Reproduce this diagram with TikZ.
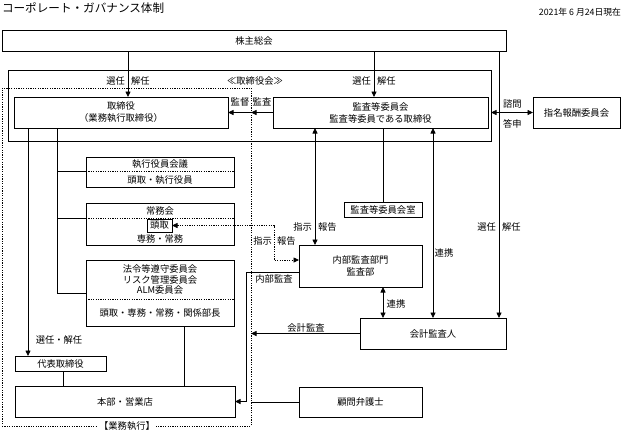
\documentclass[tikz,border=0pt]{standalone}
\usepackage{fontspec}
\setmainfont{Noto Sans CJK JP}
\usetikzlibrary{arrows.meta}

\begin{document}
\begin{tikzpicture}[x=1pt,y=-1pt,
    every node/.style={font=\fontsize{9.3}{11}\selectfont,inner sep=1pt,outer sep=0pt},
    box/.style={draw,line width=.8pt,align=center},
    conn/.style={line width=.8pt},
    dotline/.style={line width=.8pt,dash pattern=on 1.2pt off 1.2pt},
    >={Triangle[length=5.5pt,width=5pt]}]

      \useasboundingbox (0,0) rectangle (623,432);

      % x and y of the connectors
      \path (128,0) coordinate (xa) (374,0) coordinate (xb) (499,0) coordinate (xc);
      \path (315,0) coordinate (xd) (383,0) coordinate (xe) (433,0) coordinate (xf);
      \path (28,0) coordinate (xg) (63,0) coordinate (xh) (184,0) coordinate (xi);
      \path (57,0) coordinate (xj) (246,0) coordinate (xk) (274,0) coordinate (xl);
      \path (0,171) coordinate (yb) (0,218) coordinate (yc) (0,299) coordinate (yd);
      \path (0,260) coordinate (ye) (0,272) coordinate (yf);

      % header
      \node[anchor=west,font=\fontsize{11.6}{13}\selectfont] (title) at (1,8) {コーポレート・ガバナンス体制};
      \node[anchor=east,font=\fontsize{8.8}{10}\selectfont] (date) at (622,12) {2021年 6 月24日現在};

      % frames
      \node[draw,dotline,minimum width=249,minimum height=338] (gyomu) at (126.5,257) {};
      \node[fill=white] (gyomulbl) at (127,426) {【業務執行】};
      \node[box,minimum width=504,minimum height=21] (kabu) at (254,40.5) {株主総会};
      \node[box,minimum width=483,minimum height=71] (board) at (249.5,105.5) {};
      \node (boardlbl) at (255,81) {≪取締役会≫};

      % board members
      \node[box,minimum width=214,minimum height=31,font=\fontsize{9.3}{12}\selectfont] (torishimari) at (121,112.5) {取締役\\（業務執行取締役）};
      \node[box,minimum width=215,minimum height=31,font=\fontsize{9.3}{12}\selectfont] (kansa) at (380.5,112.5) {監査等委員会\\監査等委員である取締役};
      \node[box,minimum width=87,minimum height=31] (shimei) at (576.5,112.5) {指名報酬委員会};

      % committees
      \node[box,minimum width=148,minimum height=30] (shikko) at (160,172) {};
      \node (shikkot) at (160,164.5) {執行役員会議};
      \node (shikkob) at (160,180) {頭取・執行役員};
      \draw[dotline] (shikko.west |- yb) -- (shikko.east |- yb);

      \node[box,minimum width=148,minimum height=42] (jomu) at (160,224) {};
      \node (jomut) at (160,211) {常務会};
      \node[box,minimum width=25,minimum height=13] (tohdori) at (159.5,225.5) {頭取};
      \node (jomub) at (160,239) {専務・常務};
      \draw[dotline] (jomu.west |- yc) -- (jomu.east |- yc);

      \node[box,minimum width=148,minimum height=66] (horei) at (160,293) {};
      \node[align=center,font=\fontsize{9.3}{10.8}\selectfont] (horeit) at (160,279.5) {法令等遵守委員会\\リスク管理委員会\\ALM委員会};
      \node (horeib) at (160,312.5) {頭取・専務・常務・関係部長};
      \draw[dotline] (horei.west |- yd) -- (horei.east |- yd);

      \node[box,minimum width=91,minimum height=15] (daihyo) at (60.5,363.5) {代表取締役};
      \node[box,minimum width=220,minimum height=31] (honbu) at (125,401.5) {本部・営業店};

      % audit side
      \node[box,minimum width=78,minimum height=15] (shitsu) at (383,209.5) {監査等委員会室};
      \node[box,minimum width=123,minimum height=42,font=\fontsize{9.3}{11.5}\selectfont] (naibu) at (360.5,266) {内部監査部門\\監査部};
      \node[box,minimum width=146,minimum height=31] (kaikei) at (433,333.5) {会計監査人};
      \node[box,minimum width=123,minimum height=30] (komon) at (360.5,402) {顧問弁護士};

      % shareholders
      \draw[conn,->] (kabu.south -| xa) -- (torishimari.north -| xa);
      \node[anchor=east] (sa1) at (126,81) {選任};
      \node[anchor=west] (sa2) at (130,81) {解任};
      \draw[conn,->] (kabu.south -| xb) -- (kansa.north -| xb);
      \node[anchor=east] (sb1) at (372,81) {選任};
      \node[anchor=west] (sb2) at (376,81) {解任};
      \draw[conn,->] (kabu.south -| xc) -- (kaikei.north -| xc);
      \node[anchor=east] (sc1) at (497,226.5) {選任};
      \node[anchor=west] (sc2) at (501,226.5) {解任};

      % board
      \draw[conn,<->] (board.east |- shimei.west) -- (shimei.west);
      \node[anchor=west] (shimon) at (502,104) {諮問};
      \node[anchor=west] (toshin) at (502,124) {答申};
      \draw[conn,->] (kansa.west) -- (gyomu.east |- kansa.west);
      \draw[conn,->] (gyomu.east |- kansa.west) -- (torishimari.east);
      \node (kantoku) at (240,102) {監督};
      \node (kansalbl) at (262,102) {監査};

      % audit lines
      \draw[conn,<->] (kansa.south -| xd) -- (naibu.north -| xd);
      \node[anchor=east] (sj1) at (313,226.5) {指示};
      \node[anchor=west] (sj2) at (317,226.5) {報告};
      \draw[conn] (kansa.south -| xe) -- (shitsu.north);
      \draw[conn,<->] (kansa.south -| xf) -- (kaikei.north -| xf);
      \node (renkei1) at (444,252.5) {連携};
      \draw[conn,<->] (naibu.south -| xe) -- (kaikei.north -| xe);
      \node (renkei2) at (396,303.5) {連携};
      \draw[conn,->] (kaikei.west) -- (gyomu.east |- kaikei.west);
      \node (kaikeilbl) at (306,327.5) {会計監査};
      \draw[conn,->] (naibu.west |- yf) -| (xk |- honbu.east) -- (honbu.east);
      \node (naibulbl) at (274,279) {内部監査};
      \draw[conn] (komon.west) -- (gyomu.east |- komon.west);
      \draw[dotline,<->] (tohdori.east) -- (xl |- tohdori.east) |- (naibu.west |- ye);
      \node[anchor=east] (sk1) at (273,241) {指示};
      \node[anchor=west] (sk2) at (276,241) {報告};

      % executive tree
      \draw[conn] (torishimari.south -| xj) |- (horei.west);
      \draw[conn] (xj |- yb) -- (shikko.west |- yb);
      \draw[conn] (xj |- yc) -- (jomu.west |- yc);
      \draw[conn,->] (torishimari.south -| xg) -- (daihyo.north -| xg);
      \node (senkai) at (59,340) {選任・解任};
      \draw[conn] (daihyo.south -| xh) -- (honbu.north -| xh);
      \draw[conn] (horei.south -| xi) -- (honbu.north -| xi);

    \end{tikzpicture}
\end{document}
